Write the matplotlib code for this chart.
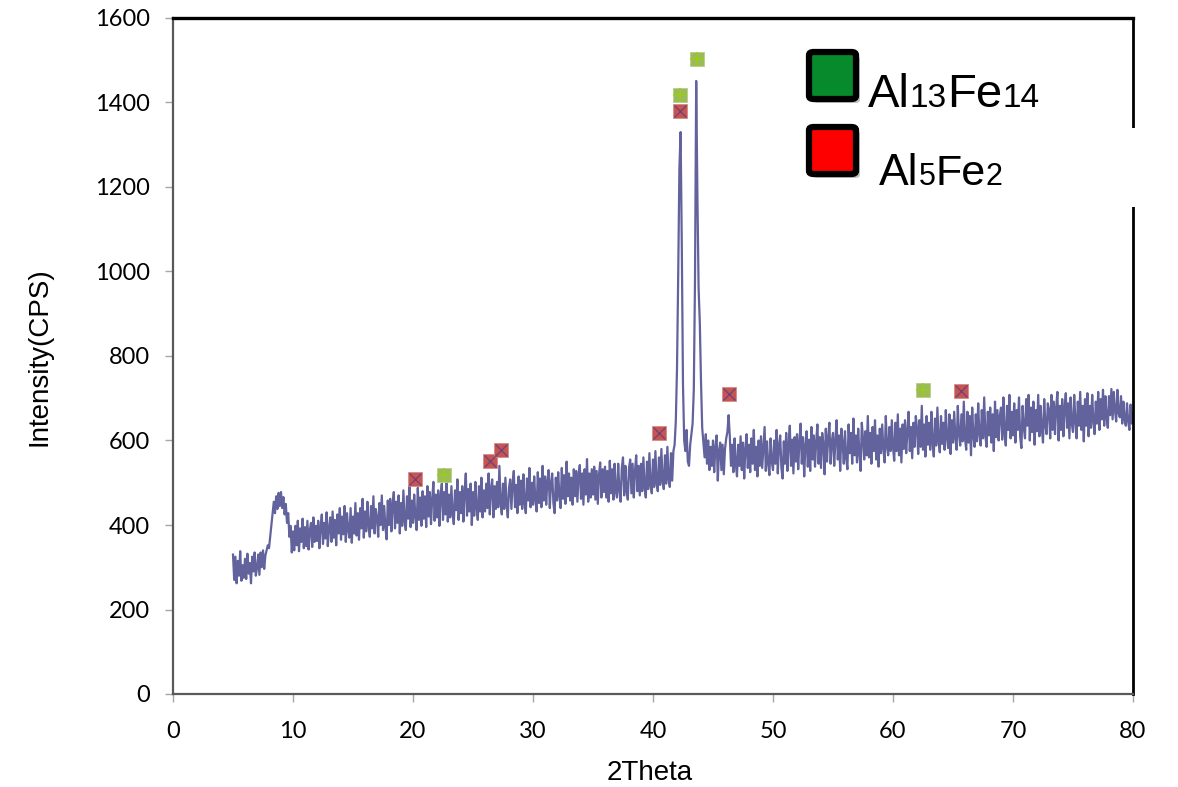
import numpy as np
import matplotlib
matplotlib.use("Agg")
import matplotlib.pyplot as plt
from matplotlib.patches import FancyBboxPatch, Rectangle
from matplotlib.text import Annotation

# ---------------- data ----------------
two_theta_start = 5.0
two_theta_step = 0.1
intensity = [
    330, 270, 325, 262, 315, 280, 338, 268, 305, 275,
    320, 272, 332, 285, 310, 262, 325, 290, 335, 280,
    298, 330, 282, 335, 300, 340, 296, 328, 340, 352,
    345, 372, 400, 425, 455, 428, 468, 438, 476, 445,
    478, 440, 466, 425, 450, 405, 428, 372, 398, 335,
    385, 340, 398, 352, 410, 338, 392, 360, 415, 345,
    395, 350, 410, 342, 388, 405, 348, 418, 360, 398,
    362, 410, 345, 395, 425, 355, 405, 368, 430, 350,
    392, 418, 360, 432, 370, 412, 352, 425, 380, 440,
    365, 420, 378, 445, 360, 428, 388, 370, 440, 358,
    420, 380, 452, 375, 428, 365, 440, 392, 462, 370,
    432, 385, 455, 398, 372, 445, 392, 468, 380, 438,
    418, 372, 452, 400, 470, 388, 445, 395, 366, 458,
    400, 462, 385, 448, 478, 392, 455, 405, 470, 380,
    452, 398, 482, 410, 388, 468, 415, 492, 395, 458,
    405, 472, 420, 388, 488, 412, 465, 398, 480, 415,
    468, 395, 492, 420, 478, 402, 462, 502, 410, 472,
    418, 482, 398, 468, 498, 412, 478, 425, 512, 408,
    472, 418, 492, 428, 402, 482, 435, 508, 412, 478,
    428, 492, 408, 478, 522, 422, 485, 432, 498, 400,
    478, 422, 502, 440, 412, 492, 432, 512, 418, 482,
    432, 498, 440, 522, 425, 488, 508, 418, 492, 438,
    502, 442, 540, 452, 425, 498, 438, 512, 448, 418,
    488, 508, 438, 498, 528, 442, 495, 428, 515, 448,
    505, 438, 520, 452, 428, 510, 458, 535, 442, 500,
    448, 515, 458, 432, 525, 452, 510, 442, 540, 458,
    515, 448, 505, 530, 440, 500, 522, 452, 428, 512,
    458, 525, 468, 440, 535, 462, 518, 450, 550, 468,
    522, 458, 512, 448, 532, 468, 528, 455, 518, 542,
    462, 522, 448, 532, 472, 556, 455, 522, 465, 532,
    472, 538, 460, 528, 450, 520, 548, 465, 532, 478,
    538, 465, 528, 455, 552, 475, 532, 460, 545, 480,
    465, 545, 482, 455, 535, 560, 470, 540, 482, 460,
    535, 555, 475, 545, 465, 528, 565, 480, 540, 470,
    545, 480, 560, 490, 465, 550, 485, 570, 495, 475,
    555, 490, 575, 500, 480, 560, 495, 580, 505, 485,
    565, 498, 585, 510, 490, 570, 505, 575, 590, 645,
    770, 990, 1245, 1330, 1060, 730, 600, 575, 625, 550,
    540, 590, 615, 640, 720, 980, 1451, 1180, 960, 880,
    740, 630, 595, 560, 615, 545, 600, 530, 585, 540,
    600, 525, 585, 612, 505, 575, 595, 530, 590, 520,
    580, 605, 620, 660, 610, 540, 590, 525, 605, 545,
    515, 590, 540, 610, 530, 595, 510, 580, 615, 535,
    590, 525, 605, 545, 625, 530, 585, 515, 600, 540,
    610, 535, 585, 632, 528, 598, 545, 518, 605, 550,
    530, 600, 545, 625, 522, 590, 612, 535, 510, 598,
    545, 618, 528, 592, 635, 540, 602, 522, 608, 550,
    615, 532, 598, 640, 545, 608, 515, 588, 622, 538,
    602, 528, 632, 555, 612, 538, 598, 638, 545, 608,
    535, 618, 592, 520, 628, 550, 608, 642, 545, 598,
    618, 540, 602, 648, 555, 612, 528, 628, 595, 545,
    622, 558, 532, 638, 570, 618, 545, 652, 565, 612,
    548, 628, 570, 528, 642, 605, 555, 622, 565, 658,
    560, 618, 545, 632, 575, 648, 555, 612, 538, 628,
    570, 638, 580, 548, 658, 585, 565, 632, 575, 648,
    585, 552, 642, 575, 662, 565, 628, 548, 638, 580,
    648, 570, 622, 668, 575, 632, 558, 642, 585, 658,
    628, 568, 648, 585, 682, 578, 638, 562, 658, 590,
    642, 578, 668, 595, 562, 652, 588, 678, 600, 572,
    658, 592, 642, 578, 672, 605, 582, 662, 568, 648,
    595, 668, 605, 578, 682, 615, 588, 662, 598, 692,
    605, 578, 668, 595, 658, 565, 678, 610, 585, 662,
    598, 688, 615, 588, 672, 605, 702, 610, 585, 668,
    612, 678, 595, 662, 575, 692, 608, 672, 600, 658,
    678, 602, 702, 618, 588, 682, 625, 708, 605, 668,
    612, 688, 595, 672, 625, 702, 608, 582, 682, 630,
    605, 698, 635, 708, 600, 678, 620, 692, 590, 672,
    622, 708, 610, 682, 630, 595, 698, 635, 615, 688,
    672, 605, 708, 625, 692, 615, 678, 715, 600, 682,
    625, 698, 610, 678, 712, 630, 688, 605, 702, 640,
    620, 708, 645, 605, 692, 635, 715, 625, 682, 598,
    698, 635, 712, 610, 682, 630, 708, 645, 615, 692,
    640, 715, 625, 698, 650, 720, 635, 705, 655, 630,
    705, 660, 722, 650, 715, 670, 645, 720, 665, 655,
    705, 640, 692, 650, 635, 688, 645, 625, 685, 640,
    668,
]
two_theta = two_theta_start + two_theta_step * np.arange(len(intensity))

al13fe14_x = [22.6, 42.25, 43.7, 62.5]
al13fe14_y = [518, 1418, 1502, 720]
al5fe2_x = [20.2, 26.4, 27.3, 40.5, 42.25, 46.3, 65.7]
al5fe2_y = [508, 552, 578, 618, 1380, 710, 718]

x_ticks = [0, 10, 20, 30, 40, 50, 60, 70, 80]
y_ticks = [0, 200, 400, 600, 800, 1000, 1200, 1400, 1600]

# ---------------- figure ----------------
W, H = 1178, 787
fig = plt.figure(figsize=(W / 100, H / 100), dpi=100)
fig.patch.set_facecolor("white")
ax = fig.add_axes([173 / W, 1 - 694 / H, (1133 - 173) / W, (694 - 18) / H])

ax.plot(two_theta, intensity, color="#62629C", lw=1.6, zorder=2)

ax.plot(al13fe14_x, al13fe14_y, ls="none", marker="s", ms=10,
        mfc="#9BBB59", mec="#B5D08A", mew=0.6, zorder=3)
ax.plot(al13fe14_x, al13fe14_y, ls="none", marker="+", ms=10,
        mec="#9CCB1E", mew=1.2, zorder=4)
ax.plot(al5fe2_x, al5fe2_y, ls="none", marker="s", ms=10,
        mfc="#C4554F", mec="#D88A86", mew=0.6, zorder=3)
ax.plot(al5fe2_x, al5fe2_y, ls="none", marker="x", ms=8,
        mec="#7B3F78", mew=1.0, zorder=4)

ax.set_xlim(0, 80)
ax.set_ylim(0, 1600)
ax.set_xticks(x_ticks)
ax.set_yticks(y_ticks)
tick_font = "Lato"
ax.set_xticklabels([str(v) for v in x_ticks], fontfamily=tick_font, fontsize=17)
ax.set_yticklabels([str(v) for v in y_ticks], fontfamily=tick_font, fontsize=17)
ax.tick_params(axis="both", direction="out", length=5.5, width=1, color="#A6A6A6")
ax.tick_params(axis="x", pad=14)
ax.tick_params(axis="y", pad=11)

for side in ("left", "bottom"):
    ax.spines[side].set_color("#595959")
    ax.spines[side].set_linewidth(1.6)
ax.spines["top"].set_color("black")
ax.spines["top"].set_linewidth(2.4)
ax.spines["right"].set_color("black")
ax.spines["right"].set_linewidth(2.0)

label_font = "Liberation Sans"
fig.text(650 / W, 1 - 773 / H, "2Theta", ha="center", va="center",
         fontfamily=label_font, fontsize=20)
fig.text(40 / W, 1 - 357 / H, "Intensity(CPS)", ha="center", va="center",
         rotation=90, fontfamily=label_font, fontsize=20)

# white gap over right spine (legend box)
fig.patches.append(Rectangle((1118 / W, 1 - 207 / H), 30 / W, (207 - 128) / H,
                             transform=fig.transFigure, facecolor="white",
                             edgecolor="none", zorder=5))

# legend squares with shadow
def legend_square(x0, y0, size, color):
    sh = FancyBboxPatch(((x0 + 4) / W, 1 - (y0 + size + 4) / H), size / W, size / H,
                        boxstyle="round,pad=0,rounding_size=0.004",
                        transform=fig.transFigure, facecolor="#9a9a9a",
                        edgecolor="none", alpha=0.6, zorder=6)
    sq = FancyBboxPatch((x0 / W, 1 - (y0 + size) / H), size / W, size / H,
                        boxstyle="round,pad=0,rounding_size=0.004",
                        transform=fig.transFigure, facecolor=color,
                        edgecolor="black", linewidth=4.5, zorder=7)
    fig.patches.append(sh)
    fig.patches.append(sq)

legend_square(809, 52, 47, "#078A2B")
legend_square(809, 127, 47, "#FF0000")

lf = "Liberation Sans"

def formula(x_px, base_px, parts):
    yb = 1 - base_px / H
    first_s, first_size = parts[0]
    prev = fig.text(x_px / W, yb, first_s, ha="left", va="baseline",
                    fontfamily=lf, fontsize=first_size, zorder=8)
    for s, size in parts[1:]:
        a = Annotation(s, xy=(1, yb), xycoords=(prev, "figure fraction"),
                       ha="left", va="baseline", fontfamily=lf,
                       fontsize=size, zorder=8, annotation_clip=False)
        fig.add_artist(a)
        prev = a

formula(868, 107, [("Al", 34), ("13", 24), ("Fe", 34), ("14", 24)])
formula(879, 185, [("Al", 32), ("5", 22), ("Fe", 31), ("2", 22)])

fig.savefig("out.png", dpi=100)
